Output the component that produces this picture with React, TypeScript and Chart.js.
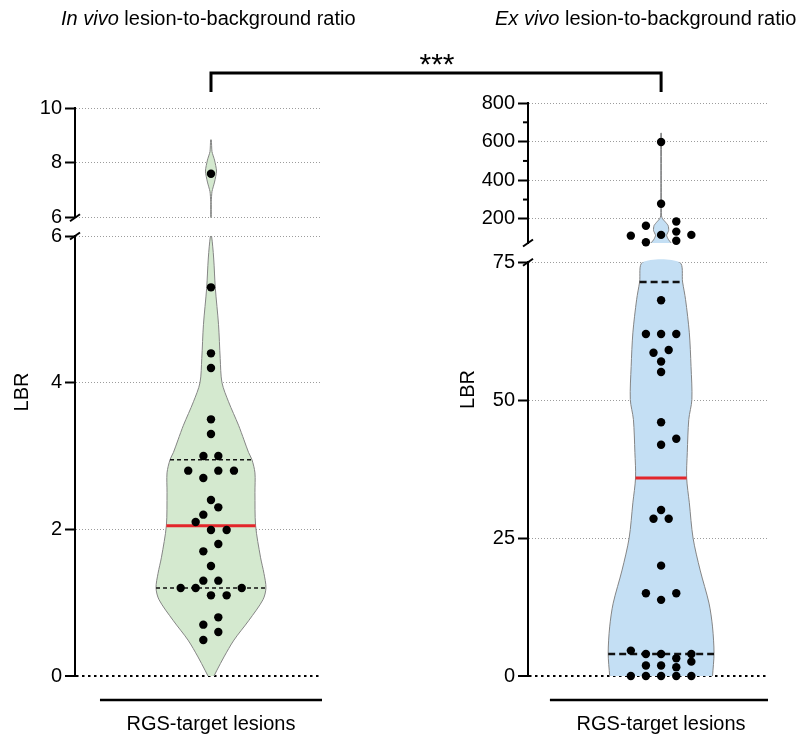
import React, { useEffect, useRef } from 'react';
import { Chart, registerables } from 'chart.js';

Chart.register(...registerables);

const CANVAS_W = 809;
const CANVAS_H = 734;
const FONT = '"Liberation Sans", Arial, Helvetica, sans-serif';

Chart.defaults.font.family = FONT;
Chart.defaults.font.size = 20;
Chart.defaults.color = '#000';

// ---------- texts ----------
const titleItalic = ['In vivo', 'Ex vivo'];
const titleRest = ' lesion-to-background ratio';
const yTitle = 'LBR';
const categories = ['RGS-target lesions'];
const categoryPositions = [0];
const significance = '***';

// ---------- In vivo ----------
const inVivoTopRange = [6, 10];
const inVivoBottomRange = [0, 6];
const inVivoTopTicks = [6, 8, 10];
const inVivoBottomTicks = [0, 2, 4, 6];
const inVivoMinorTicks: number[] = [];
const inVivoDensityValues = [0, 0.08, 0.26, 0.49, 0.76, 1.04, 1.2, 1.4, 1.62, 2.05, 2.5, 2.77, 2.95, 3.05, 3.22, 3.42, 3.74, 4.0, 4.33, 4.79, 5.29, 5.7, 6.0];
const inVivoDensityHalfWidths = [0.027, 0.054, 0.117, 0.207, 0.342, 0.468, 0.495, 0.477, 0.446, 0.402, 0.396, 0.396, 0.369, 0.338, 0.297, 0.248, 0.158, 0.099, 0.083, 0.068, 0.039, 0.024, 0.005];
const inVivoTailValues = [6.0, 6.6, 6.95, 7.3, 7.7, 8.1, 8.41, 8.84];
const inVivoTailHalfWidths = [0.003, 0.003, 0.009, 0.032, 0.05, 0.032, 0.009, 0.003];
const inVivoPointValues = [7.6, 5.3, 4.4, 4.2, 3.5, 3.3, 3.0, 3.0, 2.8, 2.8, 2.8, 2.7, 2.4, 2.3, 2.2, 2.1, 1.99, 1.99, 1.8, 1.7, 1.5, 1.3, 1.3, 1.2, 1.2, 1.2, 1.1, 1.1, 0.8, 0.7, 0.6, 0.49];
const inVivoPointOffsets = [0, 0, 0, 0, 0, 0, -0.068, 0.066, -0.205, 0.066, 0.207, -0.069, 0, 0.066, -0.069, -0.138, 0, 0.141, 0.066, -0.069, 0, -0.069, 0.066, -0.273, -0.138, 0.277, 0, 0.141, 0.066, -0.069, 0.066, -0.069];
const inVivoQuartiles = [1.2, 2.05, 2.95];
const inVivoQuartileHalfWidths = [0.495, 0.402, 0.369];

// ---------- Ex vivo ----------
const exVivoTopRange = [75, 800];
const exVivoBottomRange = [0, 75];
const exVivoTopTicks = [200, 400, 600, 800];
const exVivoMinorTicks = [300, 500, 700];
const exVivoBottomTicks = [0, 25, 50, 75];
const exVivoDensityValues = [0, 4.1, 8.9, 13.2, 19.2, 25, 31.4, 35.9, 40.5, 46.5, 50.1, 56.1, 62.2, 68.2, 71.4, 75];
const exVivoDensityHalfWidths = [0.481, 0.495, 0.481, 0.448, 0.365, 0.299, 0.264, 0.239, 0.245, 0.259, 0.288, 0.28, 0.264, 0.229, 0.201, 0.173];
const exVivoTailValues = [75, 95, 115, 140, 165, 185, 200, 215, 400, 644];
const exVivoTailHalfWidths = [0.094, 0.066, 0.052, 0.071, 0.066, 0.038, 0.014, 0.004, 0.003, 0.003];
const exVivoPointValues = [598, 278, 186, 164, 134, 117, 117, 113, 87, 79, 68.1, 62, 62, 62, 58.6, 59.1, 57, 55.1, 46, 43, 41.9, 30.1, 28.5, 28.5, 20, 15, 15, 13.8, 4.6, 4.0, 4.0, 4.0, 3.2, 2.6, 1.9, 1.9, 1.6, 0, 0, 0, 0, 0];
const exVivoPointOffsets = [0, 0, 0.142, -0.142, 0.142, 0, 0.283, -0.283, 0.142, -0.142, 0, -0.142, 0, 0.142, -0.071, 0.071, 0, 0, 0, 0.142, 0, 0, -0.071, 0.071, 0, -0.142, 0.142, 0, -0.283, -0.142, 0, 0.283, 0.142, 0.283, -0.142, 0, 0.142, -0.283, -0.142, 0, 0.142, 0.283];
const exVivoQuartiles = [4.0, 35.9, 71.4];
const exVivoQuartileHalfWidths = [0.495, 0.239, 0.201];

type Spec = {
  padding: { left: number; right: number; top: number; bottom: number };
  axisWidth: number;
  xRange: number[];
  xLineRange: number[];
  stackWeights: number[];
  topRange: number[];
  bottomRange: number[];
  topTicks: number[];
  bottomTicks: number[];
  minorTicks: number[];
  densityValues: number[];
  densityHalfWidths: number[];
  tailValues: number[];
  tailHalfWidths: number[];
  pointValues: number[];
  pointOffsets: number[];
  quartiles: number[];
  quartileHalfWidths: number[];
  fillColor: string;
  quartileDash: number[];
  quartileWidth: number;
  titleIndex: number;
  titleX: number;
  yTitleX: number;
  bracketMid: number;
  showSignificance: boolean;
};

const inVivoSpec: Spec = {
  padding: { left: 0, right: CANVAS_W - 322, top: 108, bottom: 0 },
  axisWidth: 75,
  xRange: [-1.225, 1],
  xLineRange: [-1, 1],
  stackWeights: [109.7, 18.3, 440],
  topRange: inVivoTopRange,
  bottomRange: inVivoBottomRange,
  topTicks: inVivoTopTicks,
  bottomTicks: inVivoBottomTicks,
  minorTicks: inVivoMinorTicks,
  densityValues: inVivoDensityValues,
  densityHalfWidths: inVivoDensityHalfWidths,
  tailValues: inVivoTailValues,
  tailHalfWidths: inVivoTailHalfWidths,
  pointValues: inVivoPointValues,
  pointOffsets: inVivoPointOffsets,
  quartiles: inVivoQuartiles,
  quartileHalfWidths: inVivoQuartileHalfWidths,
  fillColor: '#d4e9cf',
  quartileDash: [4, 3],
  quartileWidth: 1.5,
  titleIndex: 0,
  titleX: 61,
  yTitleX: 22,
  bracketMid: 437,
  showSignificance: true,
};

const exVivoSpec: Spec = {
  padding: { left: 440, right: CANVAS_W - 768, top: 103, bottom: 0 },
  axisWidth: 88,
  xRange: [-1.245, 1],
  xLineRange: [-1.04, 1],
  stackWeights: [140, 19.2, 413.8],
  topRange: exVivoTopRange,
  bottomRange: exVivoBottomRange,
  topTicks: exVivoTopTicks,
  bottomTicks: exVivoBottomTicks,
  minorTicks: exVivoMinorTicks,
  densityValues: exVivoDensityValues,
  densityHalfWidths: exVivoDensityHalfWidths,
  tailValues: exVivoTailValues,
  tailHalfWidths: exVivoTailHalfWidths,
  pointValues: exVivoPointValues,
  pointOffsets: exVivoPointOffsets,
  quartiles: exVivoQuartiles,
  quartileHalfWidths: exVivoQuartileHalfWidths,
  fillColor: '#c4dff4',
  quartileDash: [7, 4],
  quartileWidth: 2.5,
  titleIndex: 1,
  titleX: 495,
  yTitleX: 468,
  bracketMid: 437,
  showSignificance: false,
};

function violinShape(values: number[], halfWidths: number[]) {
  const right = values.map((v, i) => ({ x: halfWidths[i], y: v }));
  const left = values.map((v, i) => ({ x: -halfWidths[i], y: v })).reverse();
  return [...right, ...left];
}

function makeDecor(spec: Spec) {
  return {
    id: 'panelDecor',
    afterDraw(chart: any) {
      const { ctx, chartArea, scales } = chart;
      const xs = scales.x;
      const yT = scales.yTop;
      const yB = scales.yBottom;
      const ax = yB.right;

      // y title
      ctx.save();
      ctx.fillStyle = '#000';
      ctx.font = `20px ${FONT}`;
      ctx.textAlign = 'center';
      ctx.textBaseline = 'middle';
      ctx.translate(spec.yTitleX, (chartArea.top + chartArea.bottom) / 2);
      ctx.rotate(-Math.PI / 2);
      ctx.fillText(yTitle, 0, 0);
      ctx.restore();

      ctx.save();
      ctx.strokeStyle = '#000';
      ctx.lineCap = 'butt';
      // axis break marks
      ctx.lineWidth = 2;
      [yT.bottom, yB.top].forEach((yy: number) => {
        ctx.beginPath();
        ctx.moveTo(ax - 5, yy + 3.5);
        ctx.lineTo(ax + 5, yy - 3.5);
        ctx.stroke();
      });
      // minor ticks
      spec.minorTicks.forEach((v) => {
        const py = yT.getPixelForValue(v);
        ctx.beginPath();
        ctx.moveTo(ax - 5, py);
        ctx.lineTo(ax, py);
        ctx.stroke();
      });
      // offset category axis line
      ctx.lineWidth = 2.5;
      const ly = chartArea.bottom + 24;
      ctx.beginPath();
      ctx.moveTo(xs.getPixelForValue(spec.xLineRange[0]), ly);
      ctx.lineTo(xs.getPixelForValue(spec.xLineRange[1]), ly);
      ctx.stroke();
      // bracket half
      const cx = xs.getPixelForValue(categoryPositions[0]);
      ctx.lineWidth = 3;
      ctx.lineJoin = 'miter';
      ctx.beginPath();
      ctx.moveTo(cx, 92);
      ctx.lineTo(cx, 73);
      ctx.lineTo(spec.bracketMid, 73);
      ctx.stroke();
      ctx.restore();

      // panel title
      ctx.save();
      ctx.fillStyle = '#000';
      ctx.textAlign = 'left';
      ctx.textBaseline = 'alphabetic';
      ctx.font = `italic 20px ${FONT}`;
      const it = titleItalic[spec.titleIndex];
      ctx.fillText(it, spec.titleX, 25);
      const w = ctx.measureText(it).width;
      ctx.font = `20px ${FONT}`;
      ctx.fillText(titleRest, spec.titleX + w, 25);
      if (spec.showSignificance) {
        ctx.textAlign = 'center';
        ctx.font = `30px ${FONT}`;
        ctx.fillText(significance, spec.bracketMid, 74);
      }
      ctx.restore();
    },
  };
}

function yScale(spec: Spec, which: 'top' | 'bottom') {
  const range = which === 'top' ? spec.topRange : spec.bottomRange;
  const ticks = which === 'top' ? spec.topTicks : spec.bottomTicks;
  return {
    type: 'linear',
    position: 'left',
    stack: 'lbr',
    stackWeight: which === 'top' ? spec.stackWeights[0] : spec.stackWeights[2],
    weight: which === 'top' ? 3 : 1,
    min: range[0],
    max: range[1],
    afterBuildTicks: (s: any) => {
      s.ticks = ticks.map((value) => ({ value }));
    },
    afterFit: (s: any) => {
      s.width = spec.axisWidth;
    },
    grid: {
      color: (c: any) => (c.tick && c.tick.value === 0 ? '#000' : '#9c9c9c'),
      lineWidth: (c: any) => (c.tick && c.tick.value === 0 ? 2 : 1),
      tickColor: '#000',
      tickWidth: 2,
      tickLength: 10,
      drawTicks: true,
    },
    border: {
      display: true,
      color: '#000',
      width: 2,
      dash: (c: any) => (c.tick && c.tick.value === 0 ? [2.5, 3.5] : [1, 2]),
    },
    ticks: {
      padding: 3,
      autoSkip: false,
      color: '#000',
      font: { size: 20, family: FONT },
    },
  };
}

function buildConfig(spec: Spec): any {
  const splitPoints = (top: boolean) =>
    spec.pointValues
      .map((v, i) => ({ x: spec.pointOffsets[i], y: v }))
      .filter((p) => (top ? p.y > spec.bottomRange[1] : p.y <= spec.bottomRange[1]));

  const violin = (values: number[], hw: number[], axis: string, tension: number) => ({
    type: 'line',
    indexAxis: 'y',
    data: violinShape(values, hw),
    yAxisID: axis,
    borderColor: '#858585',
    borderWidth: 1,
    backgroundColor: spec.fillColor,
    fill: 'shape',
    pointRadius: 0,
    tension,
    order: 3,
  });

  const quartileLines = spec.quartiles.map((q, i) => ({
    type: 'line',
    data: [
      { x: -spec.quartileHalfWidths[i], y: q },
      { x: spec.quartileHalfWidths[i], y: q },
    ],
    yAxisID: 'yBottom',
    borderColor: i === 1 ? '#e3262b' : '#111',
    borderWidth: i === 1 ? 3 : spec.quartileWidth,
    borderDash: i === 1 ? [] : spec.quartileDash,
    pointRadius: 0,
    fill: false,
    order: 2,
  }));

  const pointSet = (top: boolean) => ({
    type: 'scatter',
    data: splitPoints(top),
    yAxisID: top ? 'yTop' : 'yBottom',
    pointRadius: 4.2,
    backgroundColor: '#000',
    borderColor: '#000',
    borderWidth: 0,
    clip: false,
    order: 1,
  });

  return {
    type: 'scatter',
    data: {
      datasets: [
        violin(spec.densityValues, spec.densityHalfWidths, 'yBottom', 0.3),
        violin(spec.tailValues, spec.tailHalfWidths, 'yTop', 0.2),
        ...quartileLines,
        pointSet(false),
        pointSet(true),
      ],
    },
    options: {
      responsive: false,
      animation: false,
      events: [],
      layout: { padding: spec.padding },
      plugins: {
        legend: { display: false },
        tooltip: { enabled: false },
        title: { display: false },
      },
      scales: {
        x: {
          type: 'linear',
          position: 'bottom',
          min: spec.xRange[0],
          max: spec.xRange[1],
          grid: { display: false, drawTicks: false },
          border: { display: false },
          afterBuildTicks: (s: any) => {
            s.ticks = categoryPositions.map((value) => ({ value }));
          },
          afterFit: (s: any) => {
            s.height = CANVAS_H - 676;
          },
          ticks: {
            callback: (_v: any, i: number) => categories[i],
            padding: 36,
            autoSkip: false,
            maxRotation: 0,
            minRotation: 0,
            color: '#000',
            font: { size: 20, family: FONT },
          },
        },
        yTop: yScale(spec, 'top'),
        yGap: {
          type: 'linear',
          position: 'left',
          stack: 'lbr',
          stackWeight: spec.stackWeights[1],
          weight: 2,
          display: false,
        },
        yBottom: yScale(spec, 'bottom'),
      },
    },
    plugins: [makeDecor(spec)],
  };
}

export default function App() {
  const leftRef = useRef<HTMLCanvasElement>(null);
  const rightRef = useRef<HTMLCanvasElement>(null);

  useEffect(() => {
    const c1 = new Chart(leftRef.current as HTMLCanvasElement, buildConfig(inVivoSpec));
    const c2 = new Chart(rightRef.current as HTMLCanvasElement, buildConfig(exVivoSpec));
    return () => {
      c1.destroy();
      c2.destroy();
    };
  }, []);

  const canvasStyle: React.CSSProperties = { position: 'absolute', left: 0, top: 0 };
  return (
    <div
      style={{
        position: 'absolute',
        left: 0,
        top: 0,
        width: CANVAS_W,
        height: CANVAS_H,
        background: '#fff',
      }}
    >
      <canvas ref={leftRef} width={CANVAS_W} height={CANVAS_H} style={canvasStyle} />
      <canvas ref={rightRef} width={CANVAS_W} height={CANVAS_H} style={canvasStyle} />
    </div>
  );
}
